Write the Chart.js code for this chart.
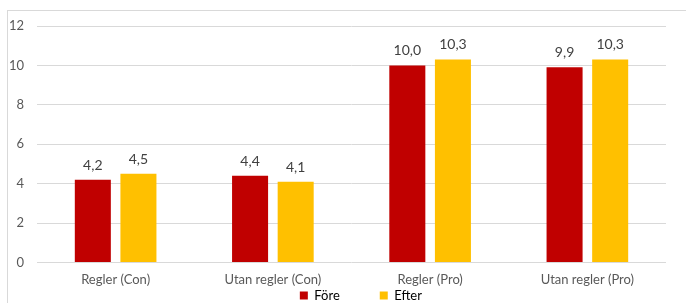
<!DOCTYPE html>
<html>
<head>
<meta charset="utf-8">
<script src="https://cdn.jsdelivr.net/npm/chart.js@4.4.1/dist/chart.umd.min.js"></script>
<style>
  html,body{margin:0;padding:0;width:686px;height:303px;overflow:hidden;background:#fff;}
  #frame{position:absolute;left:7px;top:10px;width:720px;height:320px;border:1px solid #d9d9d9;}
  #box{position:absolute;left:8px;top:11px;width:698px;height:301px;}
</style>
</head>
<body>
<div id="frame"></div>
<div id="box"><canvas id="myChart"></canvas></div>
<script>
const categories = ["Regler (Con)", "Utan regler (Con)", "Regler (Pro)", "Utan regler (Pro)"];
const fore = [4.2, 4.4, 10.0, 9.9];
const efter = [4.5, 4.1, 10.3, 10.3];
const yTicks = [0, 2, 4, 6, 8, 10, 12];

const txt = "#595959";
const font = "Lato";

// draws the value above each bar
const valueLabels = {
  id: "valueLabels",
  afterDatasetsDraw(chart) {
    let c = chart.ctx;
    c.save();
    c.font = "14px " + font;
    c.fillStyle = "#404040";
    c.textAlign = "center";
    c.textBaseline = "alphabetic";
    chart.data.datasets.forEach((ds, i) => {
      chart.getDatasetMeta(i).data.forEach((bar, j) => {
        c.fillText(ds.data[j].toFixed(1).replace(".", ","), bar.x, bar.y - 10);
      });
    });
    c.restore();
  }
};

const ctx = document.getElementById("myChart");
new Chart(ctx, {
  type: "bar",
  data: {
    labels: categories,
    datasets: [
      { label: "Före", data: fore, backgroundColor: "#C00000" },
      { label: "Efter", data: efter, backgroundColor: "#FFC000" }
    ]
  },
  options: {
    responsive: true,
    maintainAspectRatio: false,
    animation: false,
    devicePixelRatio: 1,
    layout: { padding: { left: 0, right: 40, top: 15, bottom: 0 } },
    datasets: { bar: { categoryPercentage: 0.58, barPercentage: 0.79 } },
    plugins: {
      tooltip: { enabled: false },
      legend: {
        position: "bottom",
        labels: {
          color: txt,
          font: { family: font, size: 13 },
          boxWidth: 8,
          boxHeight: 8,
          padding: 0,
          generateLabels(chart) {
            let items = chart.data.datasets.map((ds, i) => ({
              text: i == 0 ? ds.label + "\u00a0".repeat(12) : ds.label,
              fillStyle: ds.backgroundColor,
              strokeStyle: ds.backgroundColor,
              lineWidth: 0,
              datasetIndex: i
            }));
            // empty spacer so the legend sits a bit right of centre, like the original
            items.unshift({ text: "\u00a0".repeat(10), fillStyle: "rgba(0,0,0,0)", strokeStyle: "rgba(0,0,0,0)", lineWidth: 0 });
            return items;
          }
        }
      }
    },
    scales: {
      x: {
        afterFit(s) { s.height -= 9; },
        grid: { display: false, drawTicks: false },
        border: { display: false },
        ticks: { color: txt, font: { family: font, size: 13 }, padding: 10 }
      },
      y: {
        min: 0,
        max: 12,
        afterFit(s) { s.width = 29; s.paddingTop = 0; s.paddingBottom = 0; },
        afterBuildTicks(s) { s.ticks = yTicks.map(v => ({ value: v })); },
        grid: { color: "#d9d9d9", drawTicks: false },
        border: { display: false },
        ticks: { color: txt, font: { family: font, size: 13 }, padding: 13 }
      }
    }
  },
  plugins: [valueLabels]
});
</script>
</body>
</html>
